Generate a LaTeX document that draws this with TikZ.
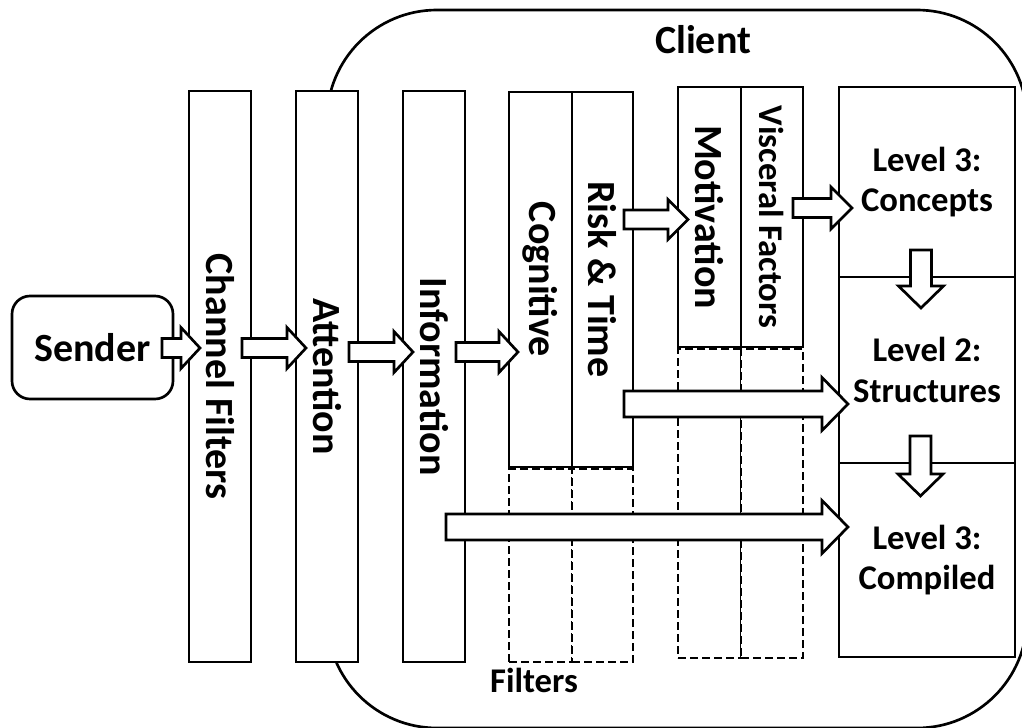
\documentclass[tikz,border=0pt]{standalone}
\usepackage{fontspec}
\setmainfont{Carlito}
\usetikzlibrary{calc}
\newcommand\pxl{0.75pt}
% rightward block arrow: tail, tip, shaft half-height, head half-height, head length (px)
\newcommand\hblock[5]{%
  \draw[blockarrow] let \p1=#1, \p2=#2 in
    (\x1,{\y1+#3*\pxl}) -- ({\x2-#5*\pxl},{\y1+#3*\pxl}) -- ({\x2-#5*\pxl},{\y1+#4*\pxl})
    -- (\x2,\y1) -- ({\x2-#5*\pxl},{\y1-#4*\pxl}) -- ({\x2-#5*\pxl},{\y1-#3*\pxl})
    -- (\x1,{\y1-#3*\pxl}) -- cycle;}
% downward block arrow: tail, tip, shaft half-width, head half-width, head length (px)
\newcommand\vblock[5]{%
  \draw[blockarrow] let \p1=#1, \p2=#2 in
    ({\x1-#3*\pxl},\y1) -- ({\x1-#3*\pxl},{\y2+#5*\pxl}) -- ({\x1-#4*\pxl},{\y2+#5*\pxl})
    -- (\x1,\y2) -- ({\x1+#4*\pxl},{\y2+#5*\pxl}) -- ({\x1+#3*\pxl},{\y2+#5*\pxl})
    -- ({\x1+#3*\pxl},\y1) -- cycle;}
\tikzset{
  bigtxt/.style={font=\fontsize{30}{36}\selectfont\bfseries},
  midtxt/.style={font=\fontsize{26}{31}\selectfont\bfseries},
  smalltxt/.style={font=\fontsize{26}{30.5}\selectfont\bfseries},
  outline/.style={draw=black, line width=2pt, fill=white},
  column/.style={outline, inner sep=0pt, rotate=-90, bigtxt},
  dashcol/.style={draw=black, line width=2pt, dash pattern=on 6pt off 3pt,
    fill=white, inner sep=0pt},
  levelbox/.style={outline, smalltxt, align=center, inner sep=0pt,
    minimum width=176*\pxl},
  blockarrow/.style={draw=black, line width=2pt, fill=white, line join=miter},
}
\begin{document}
\begin{tikzpicture}[x=0.75pt, y=-0.75pt]
\useasboundingbox (0,0) rectangle (1022,728);
\clip (0,0) rectangle (1022,728);

% the client region
\node[outline, rounded corners=82.5pt, minimum width=700*\pxl, minimum height=718*\pxl,
  inner sep=0pt] (client) at (677,369) {};
\node[bigtxt, anchor=base] (clientlbl) at (703,53) {Client};

% sender
\node[outline, rounded corners=13.5pt, bigtxt, minimum width=161*\pxl,
  minimum height=103*\pxl, inner sep=0pt] (sender) at (92.5,347.5) {Sender};

% filter columns
\node[column, minimum width=571*\pxl, minimum height=62*\pxl] (chan) at (220,376.5) {Channel Filters};
\node[column, minimum width=571*\pxl, minimum height=62*\pxl] (att) at (327,376.5) {Attention};
\node[column, minimum width=571*\pxl, minimum height=62*\pxl] (info) at (434,376.5) {Information};

\node[column, minimum width=375*\pxl, minimum height=63*\pxl] (cog) at (540.5,279.5) {Cognitive};
\node[column, minimum width=375*\pxl, minimum height=61*\pxl] (risk) at (602.5,279.5) {Risk \& Time};
\node[dashcol, minimum width=63*\pxl, minimum height=193*\pxl] (cogd) at (540.5,565.5) {};
\node[dashcol, minimum width=61*\pxl, minimum height=193*\pxl] (riskd) at (602.5,565.5) {};

\node[column, minimum width=260*\pxl, minimum height=63*\pxl] (mot) at (709.5,217) {Motivation};
\node[column, midtxt, minimum width=260*\pxl, minimum height=62*\pxl] (visc) at (772,217) {Visceral Factors};
\node[dashcol, minimum width=63*\pxl, minimum height=309*\pxl] (motd) at (709.5,503.5) {};
\node[dashcol, minimum width=62*\pxl, minimum height=309*\pxl] (viscd) at (772,503.5) {};

\node[anchor=base, smalltxt] (filterslbl) at (534,692) {Filters};

% knowledge levels
\node[levelbox, minimum height=190*\pxl] (lv3) at (927,182) {Level 3:\\Concepts};
\node[levelbox, minimum height=186*\pxl] (lv2) at (927,370) {Level 2:\\Structures};
\node[levelbox, minimum height=194*\pxl] (lv1) at (927,560) {Level 3:\\Compiled};

% arrow end points
\coordinate (a1t) at (162,348);   \coordinate (a1h) at (200,348);
\coordinate (a2t) at (242,348);   \coordinate (a2h) at (306,348);
\coordinate (a3t) at (349,352);   \coordinate (a3h) at (413,352);
\coordinate (a4t) at (456,352);   \coordinate (a4h) at (518,352);
\coordinate (a5t) at (624,219.5); \coordinate (a5h) at (688,219.5);
\coordinate (a6t) at (793,208);   \coordinate (a6h) at (852,208);
\coordinate (a7t) at (624,404);   \coordinate (a7h) at (848,404);
\coordinate (a8t) at (446,527);   \coordinate (a8h) at (848,527);
\coordinate (d1t) at (921,250);   \coordinate (d1h) at (921,308);
\coordinate (d2t) at (920.5,436); \coordinate (d2h) at (920.5,496);

% block arrows
\hblock{(a1t)}{(a1h)}{9.5}{20.5}{19}
\hblock{(a2t)}{(a2h)}{9.5}{20.5}{19}
\hblock{(a3t)}{(a3h)}{9.5}{20.5}{19}
\hblock{(a4t)}{(a4h)}{9.5}{20.5}{19}
\hblock{(a5t)}{(a5h)}{9.5}{20}{20}
\hblock{(a6t)}{(a6h)}{9.5}{21}{21}
\hblock{(a7t)}{(a7h)}{13}{26.5}{26}
\hblock{(a8t)}{(a8h)}{13}{26.5}{26}
\vblock{(d1t)}{(d1h)}{10.5}{22.5}{22}
\vblock{(d2t)}{(d2h)}{10.5}{22.5}{22}
\end{tikzpicture}
\end{document}
